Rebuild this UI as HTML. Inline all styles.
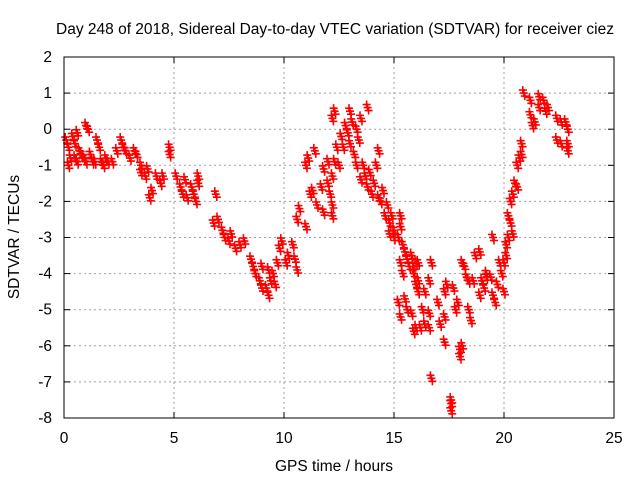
<!DOCTYPE html>
<html><head><meta charset="utf-8"><style>
body{margin:0;background:#fff}
svg text{font-family:"Liberation Sans",sans-serif;font-size:15.5px;fill:#000}
</style></head><body>
<svg id="chart" width="640" height="480" xmlns="http://www.w3.org/2000/svg">
<text x="335" y="34" text-anchor="middle">Day 248 of 2018, Sidereal Day-to-day VTEC variation (SDTVAR) for receiver ciez</text>
<text x="334" y="471" text-anchor="middle">GPS time / hours</text>
<text transform="translate(19,237) rotate(-90)" text-anchor="middle">SDTVAR / TECUs</text>
<g id="grid"></g><g id="ticks"></g><g id="pts"></g>
<rect x="64" y="57" width="550" height="361" fill="none" stroke="#000" stroke-width="1"/>
</svg>
<script>
const xTicks=[0,5,10,15,20,25];
const yTicks=[2,1,0,-1,-2,-3,-4,-5,-6,-7,-8];
const xs=[0.1,0.2,0.3,0.2,0.4,0.5,0.6,0.7,0.8,0.9,1.0,1.1,1.0,1.2,1.3,1.5,1.6,1.7,1.9,2.0,2.2,2.4,2.6,2.7,2.8,3.0,3.2,3.3,3.5,3.5,3.7,3.8,3.9,4.0,4.2,4.4,4.5,4.8,4.8,5.1,5.3,5.4,5.5,5.6,5.8,5.9,6.0,6.1,6.1,0.5,0.6,1.4,1.8,
6.9,6.8,7.0,7.2,7.3,7.5,7.6,7.8,8.0,8.2,8.5,8.6,8.7,8.9,9.0,9.2,9.3,9.4,9.5,9.6,9.0,9.3,9.7,9.8,9.9,10.1,10.2,10.4,10.5,10.6,10.6,10.7,11.0,11.1,11.3,11.4,11.5,11.7,11.8,11.8,12.0,12.0,12.1,12.2,12.2,11.0,11.2,12.2,12.2,12.3,12.3,12.4,12.5,12.6,12.7,12.8,12.9,13.0,13.0,13.1,13.2,13.3,13.4,13.5,13.3,13.5,13.6,13.7,13.8,13.9,14.0,14.1,14.2,14.3,14.3,14.4,14.5,14.6,14.7,14.8,14.8,14.9,15.0,15.0,13.8,
15.2,15.3,15.3,15.4,15.5,15.6,15.7,15.8,15.9,16.0,16.1,16.1,15.3,15.4,15.5,15.6,15.8,15.9,16.0,16.1,16.3,16.4,15.2,15.3,15.9,16.0,16.2,16.4,16.6,16.6,16.6,16.7,16.7,17.0,17.1,17.3,17.3,17.4,17.3,17.6,17.6,17.6,17.7,17.8,17.9,18.0,18.0,18.1,18.1,18.2,18.3,18.4,18.4,18.5,18.6,18.7,18.9,18.9,19.0,19.1,19.2,19.2,19.5,19.4,19.5,19.6,19.7,19.8,19.9,20.0,20.0,20.1,20.1,20.2,20.2,20.3,20.3,20.4,20.4,20.5,20.6,20.6,20.7,20.8,20.8,20.9,21.2,21.2,21.3,21.4,21.6,21.6,21.8,21.9,22.0,22.4,22.6,22.8,22.9,22.4,22.6,22.9,22.9];
const ys=[-0.3,-0.5,-0.8,-1.0,-0.2,-0.4,-0.1,-0.6,-0.7,-0.8,0.1,0.0,-0.9,-0.7,-0.9,-0.3,-0.5,-0.9,-0.8,-0.9,-0.9,-0.6,-0.3,-0.5,-0.6,-0.8,-0.6,-0.7,-1.0,-1.2,-1.3,-1.1,-1.9,-1.7,-1.3,-1.5,-1.3,-0.5,-0.7,-1.3,-1.6,-1.8,-1.4,-1.9,-1.6,-1.8,-2.0,-1.5,-1.3,-0.8,-0.9,-0.9,-1.0,
-1.8,-2.6,-2.5,-2.8,-3.0,-3.1,-2.9,-3.3,-3.2,-3.1,-3.6,-3.8,-4.0,-4.2,-4.4,-4.4,-4.6,-4.2,-4.0,-4.3,-3.8,-3.9,-3.7,-3.3,-3.1,-3.7,-3.5,-3.2,-3.6,-3.9,-2.5,-2.2,-1.0,-0.8,-1.7,-0.6,-2.1,-1.6,-2.3,-1.1,-1.5,-0.9,-1.8,-1.3,-2.4,-2.7,-1.8,-2.1,0.3,0.5,-0.9,-0.5,-1.0,-0.2,-0.5,0.1,-0.1,0.5,-0.4,0.2,-0.7,0.0,-0.3,0.3,-1.0,-1.4,-1.0,-1.3,-1.6,-1.2,-1.8,-1.5,-1.0,-0.6,-1.9,-2.0,-1.7,-2.4,-2.1,-2.6,-2.9,-2.4,-2.8,-3.0,0.6,
-3.0,-2.4,-2.7,-3.2,-3.4,-3.6,-3.8,-3.5,-4.0,-3.7,-3.7,-4.2,-3.7,-4.0,-4.7,-5.0,-5.1,-3.8,-4.3,-4.5,-5.0,-4.5,-4.8,-5.2,-5.6,-5.5,-5.5,-5.4,-5.5,-5.1,-4.2,-3.7,-6.9,-4.8,-5.4,-5.2,-4.5,-4.3,-5.9,-7.6,-7.8,-7.5,-4.4,-5.0,-4.8,-6.1,-6.3,-6.0,-3.7,-3.8,-4.1,-4.2,-5.0,-5.3,-4.2,-3.5,-3.4,-4.6,-4.2,-4.4,-4.1,-4.0,-3.0,-4.1,-4.6,-4.8,-4.3,-3.7,-4.0,-4.5,-3.7,-3.5,-3.2,-3.0,-2.4,-2.0,-2.6,-1.8,-2.9,-1.5,-1.6,-1.0,-0.8,-0.4,-0.7,1.0,0.8,0.4,0.1,0.2,0.9,0.6,0.8,0.5,0.6,0.3,0.2,0.2,0.0,-0.3,-0.4,-0.4,-0.6];
const X0=64,X1=614,Y0=418,Y1=57;
function sx(v){return X0+(v-0)/(25-0)*(X1-X0);}
function sy(v){return Y0-(v+8)/(2+8)*(Y0-Y1);}
const NS='http://www.w3.org/2000/svg';
const grid=document.getElementById('grid'),ticks=document.getElementById('ticks'),pts=document.getElementById('pts');
function mk(tag,at,parent){const e=document.createElementNS(NS,tag);for(const k in at)e.setAttribute(k,at[k]);parent.appendChild(e);return e;}
xTicks.forEach(t=>{
  const x=sx(t);
  if(t>0&&t<25){const g=mk('line',{x1:x,x2:x,y1:Y1,y2:Y0,stroke:'#a0a0a0','stroke-dasharray':'2,3'},grid);
  
  }
  mk('line',{x1:x,x2:x,y1:Y0,y2:Y0-6,stroke:'#000'},ticks);
  mk('line',{x1:x,x2:x,y1:Y1,y2:Y1+6,stroke:'#000'},ticks);
  const l=mk('text',{x:x,y:443,'text-anchor':'middle'},ticks);l.textContent=t;
  
  
});
yTicks.forEach(t=>{
  const y=sy(t);
  if(t>-8&&t<2){const g=mk('line',{x1:X0,x2:X1,y1:y,y2:y,stroke:'#a0a0a0','stroke-dasharray':'2,3'},grid);
  
  }
  mk('line',{x1:X0,x2:X0+6,y1:y,y2:y,stroke:'#000'},ticks);
  mk('line',{x1:X1,x2:X1-6,y1:y,y2:y,stroke:'#000'},ticks);
  const l=mk('text',{x:52,y:y+5,'text-anchor':'end'},ticks);l.textContent=t;
  
  
});
xs.forEach((v,i)=>{
  const x=sx(v),y=sy(ys[i]);
  [[0,0],[1,3],[-1,-3]].forEach(o=>{
    const p=mk('path',{d:`M${x+o[0]-4},${y+o[1]}h8M${x+o[0]},${y+o[1]-4}v8`,stroke:'#ff0000','stroke-width':1.6,fill:'none'},pts);
    
    
  });
});
</script>
</body></html>
